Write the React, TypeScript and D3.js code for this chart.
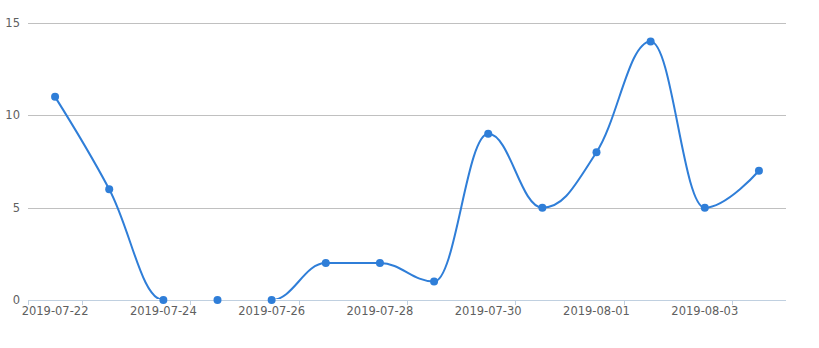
import React from "react";
import * as d3 from "d3";

const categories = [
  "2019-07-22", "2019-07-23", "2019-07-24", "2019-07-25", "2019-07-26",
  "2019-07-27", "2019-07-28", "2019-07-29", "2019-07-30", "2019-07-31",
  "2019-08-01", "2019-08-02", "2019-08-03", "2019-08-04",
];
const values = [11, 6, 0, 0, 0, 2, 2, 1, 9, 5, 8, 14, 5, 7];
const yTicks = [0, 5, 10, 15];

const W = 819;
const H = 348;
const left = 28;
const right = 786;
const top = 23;
const bottom = 300;
const color = "#2f7ed8";
const font = "'DejaVu Sans', Verdana, sans-serif";

function splinePath(pts: [number, number][]): string {
  const smoothing = 1.5;
  const denom = smoothing + 1;
  let d = "";
  let lastRight: [number, number] | null = null;
  pts.forEach((p, i) => {
    const [x, y] = p;
    let lcx = x, lcy = y, rcx = x, rcy = y;
    const prev = pts[i - 1];
    const next = pts[i + 1];
    let hasCont = false;
    if (prev && next) {
      hasCont = true;
      const [lx, ly] = prev;
      const [nx, ny] = next;
      lcx = (smoothing * x + lx) / denom;
      lcy = (smoothing * y + ly) / denom;
      rcx = (smoothing * x + nx) / denom;
      rcy = (smoothing * y + ny) / denom;
      const corr = ((rcy - lcy) * (rcx - x)) / (rcx - lcx) + y - rcy;
      lcy += corr;
      rcy += corr;
      if (lcy > ly && lcy > y) {
        lcy = Math.max(ly, y);
        rcy = 2 * y - lcy;
      } else if (lcy < ly && lcy < y) {
        lcy = Math.min(ly, y);
        rcy = 2 * y - lcy;
      }
      if (rcy > ny && rcy > y) {
        rcy = Math.max(ny, y);
        lcy = 2 * y - rcy;
      } else if (rcy < ny && rcy < y) {
        rcy = Math.min(ny, y);
        lcy = 2 * y - rcy;
      }
    }
    if (i === 0) {
      d += `M${x},${y}`;
    } else {
      const c1 = lastRight || prev;
      d += `C${c1[0]},${c1[1]},${lcx},${lcy},${x},${y}`;
    }
    lastRight = hasCont ? [rcx, rcy] : null;
  });
  return d;
}

export default function App() {
  const x = d3.scaleBand<string>().domain(categories).range([left, right]).padding(0);
  const y = d3.scaleLinear().domain([0, 15]).range([bottom, top]);
  const bw = x.bandwidth();
  const pts: [number, number][] = categories.map((c, i) => [
    (x(c) as number) + bw / 2,
    y(values[i]),
  ]);
  const tickXs = [left, ...categories.filter((_, i) => i % 2 === 0).map((c) => (x(c) as number) + bw)];

  return (
    <svg
      width={W}
      height={H}
      style={{ position: "absolute", left: 0, top: 0, background: "#fff" }}
      fontFamily={font}
    >
      <defs>
        <clipPath id="plotclip">
          <rect x={left} y={top - 5} width={right - left} height={bottom - 1 - (top - 5)} />
        </clipPath>
      </defs>
      <rect x={0} y={0} width={W} height={H} fill="#fff" />
      {yTicks.filter((t) => t > 0).map((t) => (
        <line key={t} x1={left} x2={right} y1={Math.round(y(t)) + 0.5} y2={Math.round(y(t)) + 0.5} stroke="#C0C0C0" strokeWidth={1} />
      ))}
      {yTicks.map((t) => (
        <text key={t} x={left - 8} y={y(t) + 4} textAnchor="end" fontSize={11.5} fill="#606060">
          {t}
        </text>
      ))}
      <path d={splinePath(pts)} fill="none" stroke={color} strokeWidth={2} clipPath="url(#plotclip)" strokeLinejoin="round" />
      <line x1={left} x2={right} y1={bottom + 0.5} y2={bottom + 0.5} stroke="#C0D0E0" strokeWidth={1} />
      {tickXs.map((tx, i) => (
        <line key={i} x1={Math.round(tx) + 0.5} x2={Math.round(tx) + 0.5} y1={bottom} y2={bottom + 5} stroke="#C0D0E0" strokeWidth={1} />
      ))}
      {categories.map((c, i) =>
        i % 2 === 0 ? (
          <text key={c} x={(x(c) as number) + bw / 2} y={315} textAnchor="middle" fontSize={11.5} fill="#606060">
            {c}
          </text>
        ) : null
      )}
      {pts.map((p, i) => (
        <circle key={i} cx={p[0]} cy={p[1]} r={4} fill={color} />
      ))}
    </svg>
  );
}
